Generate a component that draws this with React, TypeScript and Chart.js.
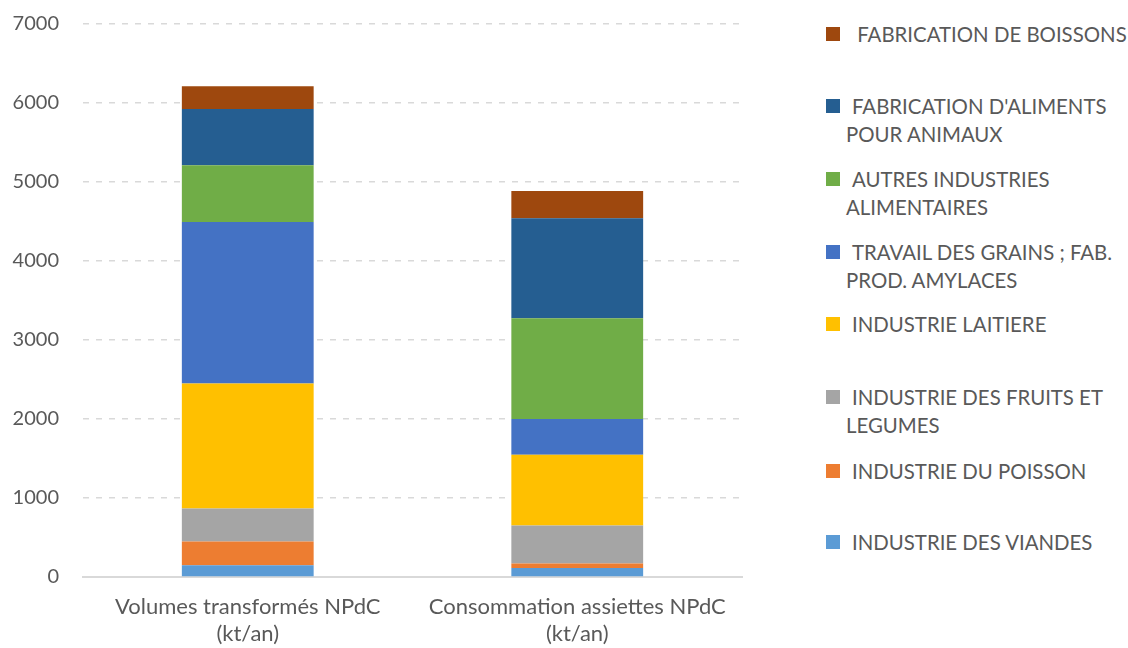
import React, { useEffect, useRef } from "react";
import { Chart, registerables } from "chart.js";

Chart.register(...registerables);

const categories: string[][] = [
  ["Volumes transformés NPdC", "(kt/an)"],
  ["Consommation assiettes NPdC", "(kt/an)"],
];

const seriesNames: string[] = [
  "INDUSTRIE DES VIANDES",
  "INDUSTRIE DU POISSON",
  "INDUSTRIE DES FRUITS ET LEGUMES",
  "INDUSTRIE LAITIERE",
  "TRAVAIL DES GRAINS ; FAB. PROD. AMYLACES",
  "AUTRES INDUSTRIES ALIMENTAIRES",
  "FABRICATION D'ALIMENTS POUR ANIMAUX",
  " FABRICATION DE BOISSONS",
];

const viandes = [148, 114];
const poisson = [300, 56];
const fruits = [418, 481];
const laitiere = [1582, 898];
const grains = [2046, 451];
const autres = [717, 1275];
const animaux = [713, 1266];
const boissons = [287, 345];

const seriesValues = [viandes, poisson, fruits, laitiere, grains, autres, animaux, boissons];

const colors = [
  "#5B9BD5",
  "#ED7D31",
  "#A5A5A5",
  "#FFC000",
  "#4472C4",
  "#70AD47",
  "#255E91",
  "#9E480E",
];

const yTicks = [0, 1000, 2000, 3000, 4000, 5000, 6000, 7000];

const FONT = "Lato, 'Open Sans', sans-serif";
const TEXT = "#595959";

export default function App() {
  const ref = useRef<HTMLCanvasElement | null>(null);

  useEffect(() => {
    if (!ref.current) return;
    const chart = new Chart(ref.current, {
      type: "bar",
      data: {
        labels: categories,
        datasets: seriesNames.map((name, i) => ({
          label: name,
          data: seriesValues[i],
          backgroundColor: colors[i],
          borderWidth: 0,
          categoryPercentage: 0.8,
          barPercentage: 0.5,
        })),
      },
      options: {
        animation: false,
        responsive: false,
        maintainAspectRatio: false,
        layout: { padding: { top: 24, right: 18, left: 0, bottom: 0 } },
        plugins: {
          legend: { display: false },
          tooltip: { enabled: false },
        },
        scales: {
          x: {
            stacked: true,
            grid: { display: false, drawTicks: false },
            border: { display: true, color: "#d9d9d9", width: 2 },
            ticks: {
              color: TEXT,
              font: { family: FONT, size: 22, lineHeight: 27 / 22 },
              padding: 16,
              maxRotation: 0,
            },
            afterFit: (s: any) => {
              s.height = 71;
              s.paddingLeft = 0;
              s.paddingRight = 0;
            },
          },
          y: {
            stacked: true,
            min: 0,
            max: 7000,
            afterBuildTicks: (s: any) => {
              s.ticks = yTicks.map((v) => ({ value: v }));
            },
            grid: { color: "#d9d9d9", lineWidth: 1.5, drawTicks: false },
            border: { display: false, dash: [6, 7] },
            ticks: {
              color: TEXT,
              font: { family: FONT, size: 20 },
              padding: 24,
              callback: (v: any) => String(v),
            },
            afterFit: (s: any) => {
              s.width = 83;
              s.paddingTop = 0;
              s.paddingBottom = 0;
            },
          },
        },
      },
    });
    return () => chart.destroy();
  }, []);

  const legendOrder = [7, 6, 5, 4, 3, 2, 1, 0];
  const legendTops = [34, 106, 179, 252, 324, 397, 471, 542];

  return (
    <div
      style={{
        position: "fixed",
        left: 0,
        top: 0,
        width: 1128,
        height: 648,
        background: "#fff",
        fontFamily: FONT,
      }}
    >
      <canvas ref={ref} width={760} height={648} style={{ position: "absolute", left: 0, top: 0 }} />
      {legendOrder.map((idx, k) => (
        <div key={idx}>
          <div
            style={{
              position: "absolute",
              left: 826,
              top: legendTops[k] - 7,
              width: 14,
              height: 14,
              background: colors[idx],
            }}
          />
          <div
            style={{
              position: "absolute",
              left: 846,
              top: legendTops[k] - 14,
              width: 282,
              fontSize: 20.4,
              lineHeight: "28px",
              color: TEXT,
              textIndent: 6,
              whiteSpace: "pre-wrap",
            }}
          >
            {seriesNames[idx]}
          </div>
        </div>
      ))}
    </div>
  );
}
